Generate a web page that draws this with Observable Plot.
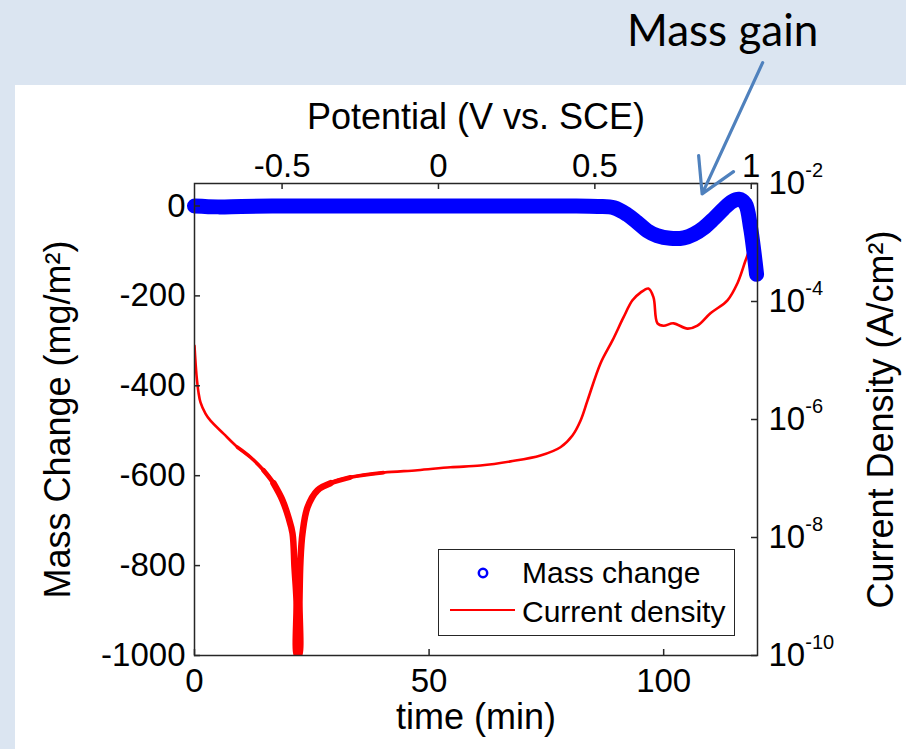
<!DOCTYPE html>
<html><head><meta charset="utf-8">
<script src="https://cdn.jsdelivr.net/npm/d3@7"></script>
<script src="https://cdn.jsdelivr.net/npm/@observablehq/plot@0.6"></script>
<style>
html,body{margin:0;padding:0;}
body{width:906px;height:749px;background:#dbe5f1;position:relative;overflow:hidden;font-family:"Liberation Sans",Arial,sans-serif;}
#panel{position:absolute;left:15px;top:85px;width:891px;height:664px;background:#fff;}
#chart{position:absolute;left:0;top:0;}
#note{position:absolute;left:627px;top:3px;font-family:Lato,"Open Sans",sans-serif;font-size:44px;color:#000;white-space:nowrap;line-height:1.2;}
#legend{position:absolute;left:438px;top:549px;width:295px;height:85px;border:1.5px solid #262626;background:#fff;}
#legend svg{display:block;font-family:"Liberation Sans",Arial,sans-serif;font-size:30px;}
</style></head>
<body>
<div id="panel"></div>
<div id="chart"></div>
<div id="note">Mass gain</div>
<div id="legend">
<svg width="295" height="85">
<circle cx="44" cy="23" r="4.2" fill="none" stroke="#0000ff" stroke-width="2.5"/>
<text x="83" y="33">Mass change</text>
<line x1="11" x2="76" y1="60" y2="60" stroke="#ff0000" stroke-width="2"/>
<text x="83" y="72">Current density</text>
</svg>
</div>
<script>
// ---- data ----
const massTime  = [0, 5, 10, 20, 30, 40, 50, 60, 70, 80, 86, 89.4, 92.2, 94.3, 96.5, 98.6, 101.4, 104.3, 106.4, 108.5, 110.7, 112.8, 114.6, 116.0, 117.4, 118.5, 119.2, 119.8];
const massValue = [0, -2, -1, 0, 0, 0, 0, 0, 0, 0, -1, -4, -19, -36, -55, -66, -72, -71, -63, -49, -28, -6, 10, 15, 5, -47, -99, -152];

const currentTime  = [0, 0.43, 0.85, 1.28, 2.34, 3.41, 6.18, 9.16, 11.94, 14.71, 16.84, 18.76, 20.03, 20.89, 21.31, 21.74, 21.85, 22.27, 22.38, 22.59, 23.02, 24.08, 26.21, 28.99, 33.25, 40.28, 47.53, 54.56, 60.95, 67.35, 73.74, 78.0, 80.56, 82.27, 83.76, 86.53, 89.09, 91.43, 93.35, 95.06, 96.76, 97.83, 98.68, 99.96, 102.09, 105.07, 107.2, 109.97, 113.6, 115.73, 117.43, 118.07];
const currentLog10 = [-4.75, -5.25, -5.54, -5.71, -5.9, -6.02, -6.24, -6.47, -6.64, -6.86, -7.08, -7.37, -7.66, -7.93, -8.51, -9.07, -10, -10, -9.07, -8.39, -7.93, -7.49, -7.2, -7.08, -6.98, -6.9, -6.86, -6.81, -6.78, -6.71, -6.61, -6.47, -6.27, -6.02, -5.68, -5.05, -4.66, -4.27, -3.98, -3.85, -3.78, -3.93, -4.37, -4.41, -4.37, -4.46, -4.41, -4.2, -3.98, -3.69, -3.31, -3.17];

const timeTicks = [0, 50, 100];
const massTicks = [-1000, -800, -600, -400, -200, 0];
const potentialTicks = [-0.5, 0, 0.5, 1];
const currentExponents = [-10, -8, -6, -4, -2];
const potentialStart = -0.78;   // V vs SCE at t = 0
const scanRate = 0.015;         // V per min

const annotationTime = [121.1, 108.2];
const annotationMass = [319, 27];

// ---- layout ----
const W = 906, H = 749;
const mL = 194, mR = 149, mT = 183, mB = 94;
const innerW = W - mL - mR, innerH = H - mT - mB;
const yMin = -1000, yMax = 50, logMin = -10, logMax = -2;
const logToMass = l => yMin + (l - logMin) / (logMax - logMin) * (yMax - yMin);
const massToLog = m => logMin + (m - yMin) / (yMax - yMin) * (logMax - logMin);
const potToTime = v => (v - potentialStart) / scanRate;
const timeToPot = t => Math.round((potentialStart + t * scanRate) * 10) / 10;

const mass = massTime.map((t, i) => ({t, m: massValue[i]}));
const current = currentTime.map((t, i) => ({t, y: logToMass(currentLog10[i])}));
const arrow = [{x1: annotationTime[0], y1: annotationMass[0], x2: annotationTime[1], y2: annotationMass[1]}];

const tickLen = 6, axisColor = "#262626";
const red = (lo, hi, w) => Plot.line(current, {filter: d => d.t >= lo && d.t <= hi, x: "t", y: "y", stroke: "#ff0000", strokeWidth: w, clip: true, curve: "catmull-rom"});

const svg = Plot.plot({
  width: W, height: H,
  marginLeft: mL, marginRight: mR, marginTop: mT, marginBottom: mB,
  style: {background: "transparent", overflow: "visible", fontFamily: "'Liberation Sans', Arial, sans-serif", color: "#000"},
  x: {domain: [0, 120]},
  y: {domain: [yMin, yMax]},
  marks: [
    red(0, 120, 2.6),
    red(9, 45, 3.6),
    red(12, 34, 4.8),
    red(16, 29, 6.5),
    Plot.line(mass, {x: "t", y: "m", stroke: "#0000ff", strokeWidth: 15, curve: "catmull-rom"}),
    Plot.frame({stroke: axisColor, strokeWidth: 1.5}),
    Plot.tickX(timeTicks, {x: d => d, insetTop: innerH - tickLen, stroke: axisColor, strokeWidth: 1.5}),
    Plot.tickX(potentialTicks, {x: potToTime, insetBottom: innerH - tickLen, stroke: axisColor, strokeWidth: 1.5}),
    Plot.tickY(massTicks, {y: d => d, insetRight: innerW - tickLen, stroke: axisColor, strokeWidth: 1.5}),
    Plot.tickY(currentExponents, {y: logToMass, insetLeft: innerW - tickLen, stroke: axisColor, strokeWidth: 1.5}),
    Plot.axisX({anchor: "bottom", ticks: timeTicks, tickFormat: d => String(d), tickSize: 0, tickPadding: 13, fontSize: 33, label: null}),
    Plot.axisX({anchor: "top", ticks: potentialTicks.map(potToTime), tickFormat: d => String(timeToPot(d)), tickSize: 0, tickPadding: 7, fontSize: 33, label: null}),
    Plot.axisY({anchor: "left", ticks: massTicks, tickFormat: d => String(d), tickSize: 0, tickPadding: 9, fontSize: 33, label: null}),
    Plot.axisY({anchor: "right", ticks: currentExponents.map(logToMass), tickFormat: d => "10^" + Math.round(massToLog(d)), tickSize: 0, tickPadding: 11, fontSize: 33, label: null}),
    Plot.text(["Potential (V vs. SCE)"], {text: d => d, frameAnchor: "top", dy: -66, fontSize: 36, lineAnchor: "middle", textAnchor: "middle"}),
    Plot.text(["time (min)"], {text: d => d, frameAnchor: "bottom", dy: 62, fontSize: 36, lineAnchor: "middle", textAnchor: "middle"}),
    Plot.text(["Mass Change (mg/m²)"], {text: d => d, frameAnchor: "left", dx: -136, rotate: -90, fontSize: 36, lineAnchor: "middle", textAnchor: "middle"}),
    Plot.text(["Current Density (A/cm²)"], {text: d => d, frameAnchor: "right", dx: 124, rotate: -90, fontSize: 36, lineAnchor: "middle", textAnchor: "middle"}),
    Plot.arrow(arrow, {x1: "x1", y1: "y1", x2: "x2", y2: "y2", stroke: "#4f81bd", strokeWidth: 3.2, headLength: 18})
  ]
});

const ns = "http://www.w3.org/2000/svg";
svg.querySelectorAll("text").forEach(t => {
  const m = /^10\^(-?\d+)$/.exec(t.textContent);
  if (!m) return;
  t.textContent = "";
  const a = document.createElementNS(ns, "tspan");
  a.textContent = "10";
  const b = document.createElementNS(ns, "tspan");
  b.textContent = m[1];
  b.setAttribute("font-size", "20");
  b.setAttribute("dy", "-0.85em");
  t.append(a, b);
});
document.getElementById("chart").append(svg);
</script>
</body></html>
